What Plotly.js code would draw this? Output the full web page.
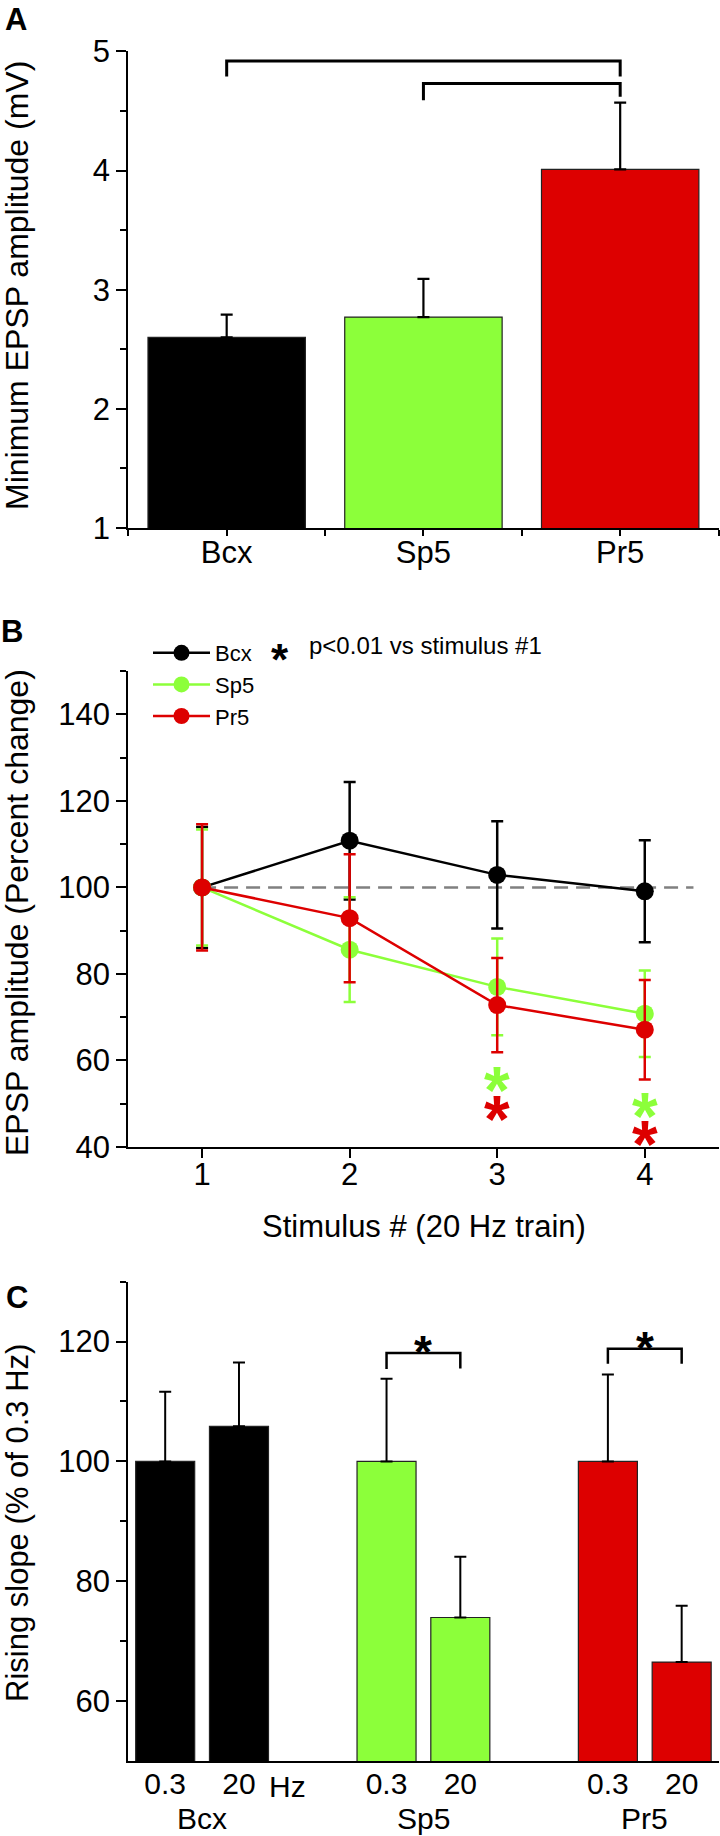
<!DOCTYPE html>
<html>
<head>
<meta charset="utf-8">
<script src="https://cdn.plot.ly/plotly-3.0.1.min.js"></script>
<style>html,body{margin:0;padding:0;background:#fff;}#chart{width:720px;height:1836px;}</style>
</head>
<body>
<div id="chart"></div>
<script>
// ---------- DATA ----------
const catsA = ['Bcx', 'Sp5', 'Pr5'];
const ampA = [2.60, 2.77, 4.01];
const ampErrA = [0.19, 0.32, 0.56];
const bracketsA = [[1, 3, 4.92, 4.79, 4.79], [2, 3, 4.73, 4.59, 4.62]];

const stimB = [1, 2, 3, 4];
const bcxB = [100, 110.8, 102.9, 99.1];
const bcxErrB = [14.0, 13.6, 12.4, 11.8];
const sp5B = [100, 85.6, 77.0, 70.8];
const sp5ErrB = [13.4, 12.1, 11.2, 10.0];
const pr5B = [100, 92.9, 72.8, 67.1];
const pr5ErrB = [14.6, 14.8, 10.9, 11.5];
const sigSp5X = [3, 4], sigSp5Y = [56.6, 50.7];
const sigPr5X = [3, 4], sigPr5Y = [49.5, 43.7];

const groupsC = ['Bcx', 'Sp5', 'Pr5'];
const freqC = ['0.3', '20'];
const slopeC = [[100, 105.85], [100, 73.95], [100, 66.5]];
const slopeErrC = [[11.6, 10.65], [13.8, 10.15], [14.5, 9.4]];
const bracketsC = [[1, 118.1, 115.4, 115.5], [2, 118.8, 116.3, 116.3]];

const colors = ['#000000', '#8CFF3A', '#DD0000'];
const FONT = 'Arial, "Liberation Sans", sans-serif';

// ---------- TRACES ----------
const traces = [];
traces.push({
  type: 'bar', x: [1, 2, 3], y: ampA, width: 0.8, xaxis: 'x', yaxis: 'y', base: 0,
  marker: {color: colors, line: {color: '#222', width: 1.2}},
  error_y: {type: 'data', symmetric: false, array: ampErrA, arrayminus: [0, 0, 0], color: '#000', thickness: 2.2, width: 6},
  showlegend: false, hoverinfo: 'skip'
});
const seriesB = [
  {name: 'Bcx', y: bcxB, e: bcxErrB, c: colors[0]},
  {name: 'Sp5', y: sp5B, e: sp5ErrB, c: colors[1]},
  {name: 'Pr5', y: pr5B, e: pr5ErrB, c: colors[2]}
];
seriesB.forEach(s => traces.push({
  type: 'scatter', mode: 'lines+markers', name: s.name, x: stimB, y: s.y, xaxis: 'x2', yaxis: 'y2',
  line: {color: s.c, width: 2.5}, marker: {color: s.c, size: 18},
  error_y: {type: 'data', array: s.e, color: s.c, thickness: 2.5, width: 6}, showlegend: true
}));
const xC = [], yC = [], eC = [], cC = [], tC = [];
groupsC.forEach((g, gi) => freqC.forEach((f, fi) => {
  xC.push(gi * 3 + fi); yC.push(slopeC[gi][fi]); eC.push(slopeErrC[gi][fi]); cC.push(colors[gi]); tC.push(f);
}));
traces.push({
  type: 'bar', x: xC, y: yC, base: 0, width: 0.8, xaxis: 'x3', yaxis: 'y3',
  marker: {color: cC, line: {color: '#222', width: 1.2}},
  error_y: {type: 'data', symmetric: false, array: eC, arrayminus: eC.map(() => 0), color: '#000', thickness: 2, width: 6},
  showlegend: false, hoverinfo: 'skip'
});

// ---------- SHAPES & ANNOTATIONS ----------
const P = (px) => px / 720, Q = (py) => 1 - py / 1836;
const shapes = [];
bracketsA.forEach(b => shapes.push({type: 'path', xref: 'x', yref: 'y',
  path: `M${b[0]},${b[3]} L${b[0]},${b[2]} L${b[1]},${b[2]} L${b[1]},${b[4]}`, line: {color: '#000', width: 3}}));
shapes.push({type: 'line', xref: 'x2', yref: 'y2', x0: 1, x1: 4.33, y0: 100, y1: 100,
  line: {color: '#808080', width: 2.5, dash: '14px,8px'}, layer: 'below'});
bracketsC.forEach(b => {
  const x0 = b[0] * 3, x1 = b[0] * 3 + 1;
  shapes.push({type: 'path', xref: 'x3', yref: 'y3',
    path: `M${x0},${b[2]} L${x0},${b[1]} L${x1},${b[1]} L${x1},${b[3]}`, line: {color: '#000', width: 2.5}});
});

const ann = [];
[['A', 16, 19], ['B', 12, 632], ['C', 17, 1297]].forEach(l => ann.push({
  text: '<b>' + l[0] + '</b>', xref: 'paper', yref: 'paper', x: P(l[1]), y: Q(l[2]),
  showarrow: false, font: {size: 31, color: '#000'}, xanchor: 'center', yanchor: 'middle'}));
[['Minimum EPSP amplitude (mV)', 17, 286, 32], ['EPSP amplitude (Percent change)', 17, 913, 32], ['Rising slope (% of 0.3 Hz)', 17, 1523, 31]].forEach(t => ann.push({
  text: t[0], xref: 'paper', yref: 'paper', x: P(t[1]), y: Q(t[2]), textangle: -90,
  showarrow: false, font: {size: t[3], color: '#000'}, xanchor: 'center', yanchor: 'middle'}));
ann.push({text: 'Stimulus # (20 Hz train)', xref: 'paper', yref: 'paper', x: P(424), y: Q(1226),
  showarrow: false, font: {size: 31, color: '#000'}, xanchor: 'center', yanchor: 'middle'});
ann.push({text: '<b>*</b>', xref: 'paper', yref: 'paper', x: P(280), y: Q(648), yshift: -11,
  showarrow: false, font: {size: 44, color: '#000'}, xanchor: 'center', yanchor: 'middle'});
ann.push({text: 'p<0.01 vs stimulus #1', xref: 'paper', yref: 'paper', x: P(306.7), y: Q(645),
  showarrow: false, font: {size: 24, color: '#000'}, xanchor: 'left', yanchor: 'middle'});
sigSp5X.forEach((x, i) => ann.push({text: '<b>*</b>', xref: 'x2', yref: 'y2', x: x, y: sigSp5Y[i], yshift: -15,
  showarrow: false, font: {size: 66, color: colors[1]}, xanchor: 'center', yanchor: 'middle'}));
sigPr5X.forEach((x, i) => ann.push({text: '<b>*</b>', xref: 'x2', yref: 'y2', x: x, y: sigPr5Y[i], yshift: -13,
  showarrow: false, font: {size: 66, color: colors[2]}, xanchor: 'center', yanchor: 'middle'}));
bracketsC.forEach(b => ann.push({text: '<b>*</b>', xref: 'x3', yref: 'y3', x: b[0] * 3 + 0.5, y: b[1] + 2, yshift: -11,
  showarrow: false, font: {size: 46, color: '#000'}, xanchor: 'center', yanchor: 'middle'}));
ann.push({text: 'Hz', xref: 'x3', yref: 'paper', x: 1.66, y: Q(1786.7), showarrow: false,
  font: {size: 30, color: '#000'}, xanchor: 'center', yanchor: 'middle'});
groupsC.forEach((g, gi) => ann.push({text: g, xref: 'x3', yref: 'paper', x: gi * 3 + 0.5, y: Q(1818),
  showarrow: false, font: {size: 30, color: '#000'}, xanchor: 'center', yanchor: 'middle'}));

// ---------- LAYOUT ----------
const axBase = {showline: true, linecolor: '#000', linewidth: 2, ticks: 'outside', tickcolor: '#000',
  tickwidth: 2, showgrid: false, zeroline: false, tickfont: {size: 31, color: '#000'}, fixedrange: true};
const minorY = (vals) => ({tickvals: vals, ticks: 'outside', ticklen: 6, tickcolor: '#000', tickwidth: 2});

const layout = {
  width: 720, height: 1836, margin: {l: 0, r: 0, t: 0, b: 0}, autosize: false,
  paper_bgcolor: '#fff', plot_bgcolor: 'rgba(0,0,0,0)', font: {family: FONT, color: '#000'},
  showlegend: true,
  legend: {x: P(148), y: Q(632), xanchor: 'left', yanchor: 'top', bgcolor: 'rgba(0,0,0,0)', borderwidth: 0,
    font: {size: 22, color: '#000'}, itemwidth: 57, tracegroupgap: 0},
  xaxis: Object.assign({}, axBase, {domain: [P(128.3), 0.998], range: [0.5, 3.5], anchor: 'y',
    tickvals: [1, 2, 3], ticktext: catsA, ticklen: 6, ticklabelstandoff: -10,
    minor: {tickvals: [0.5, 1.5, 2.5, 3.5], ticks: 'outside', ticklen: 6, tickcolor: '#000', tickwidth: 2}}),
  yaxis: Object.assign({}, axBase, {domain: [Q(527.9), Q(51.4)], range: [1, 5], anchor: 'x',
    tickvals: [1, 2, 3, 4, 5], ticklen: 10, minor: minorY([1.5, 2.5, 3.5, 4.5])}),
  xaxis2: Object.assign({}, axBase, {domain: [P(128.3), 0.998], range: [0.5, 4.5], anchor: 'y2',
    tickvals: stimB, ticklen: 9, ticklabelstandoff: -10}),
  yaxis2: Object.assign({}, axBase, {domain: [Q(1146.9), Q(671.2)], range: [40, 150], anchor: 'x2',
    tickvals: [40, 60, 80, 100, 120, 140], ticklen: 10, minor: minorY([50, 70, 90, 110, 130, 150])}),
  xaxis3: Object.assign({}, axBase, {domain: [P(128.3), 0.998], range: [-0.5, 7.5], anchor: 'y3',
    tickvals: xC, ticktext: tC, ticks: '', ticklen: 0, ticklabelstandoff: -5, tickfont: {size: 30, color: '#000'}}),
  yaxis3: Object.assign({}, axBase, {domain: [Q(1761), Q(1281.6)], range: [50, 130], anchor: 'x3',
    tickvals: [60, 80, 100, 120], ticklen: 10, minor: minorY([70, 90, 110, 130])}),
  shapes: shapes, annotations: ann
};

Plotly.newPlot('chart', traces, layout, {staticPlot: true, displayModeBar: false});
</script>
</body>
</html>
